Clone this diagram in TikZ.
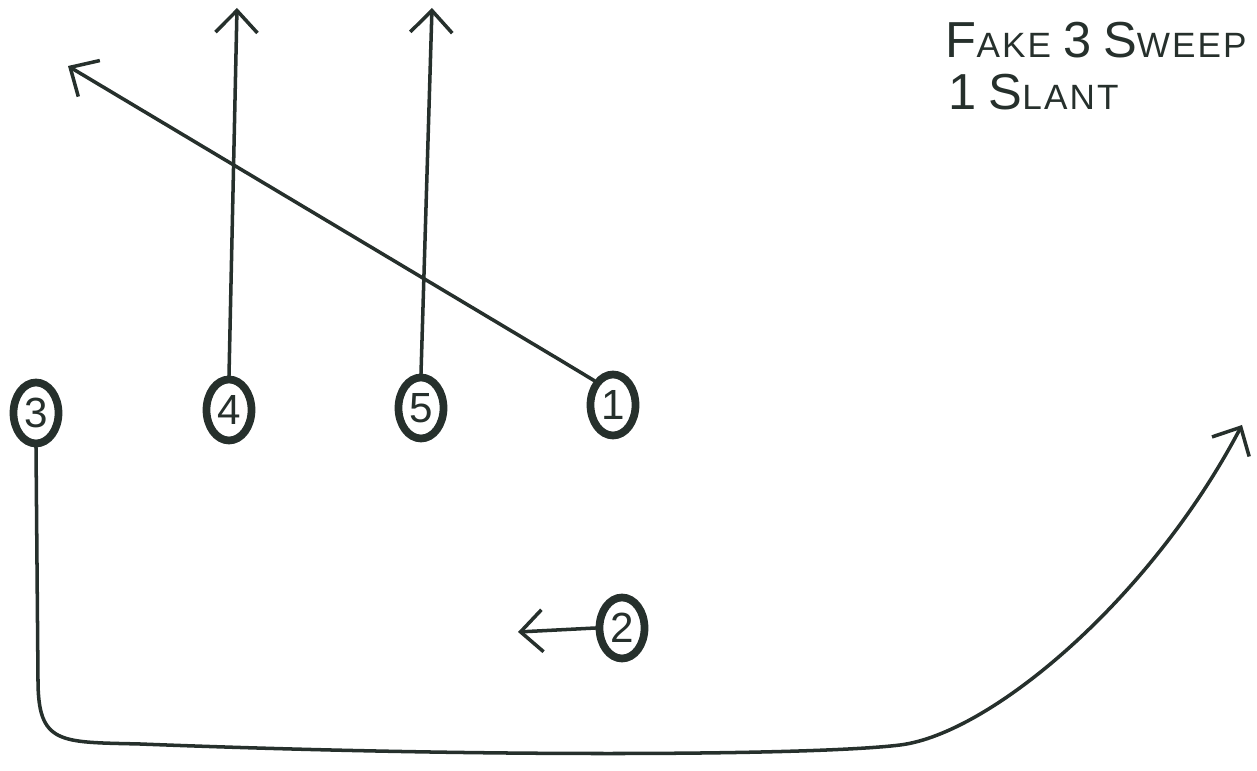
\documentclass[tikz,border=0pt]{standalone}
\usepackage{fontspec}
\setsansfont{Liberation Sans}[LetterSpace=6]
\usetikzlibrary{arrows.meta,shapes.geometric}
\definecolor{pen}{RGB}{38,48,44}

\begin{document}
\begin{tikzpicture}[x=0.1mm,y=-0.1mm,>={Straight Barb[length=2.2mm,width=4.2mm]},font=\sffamily,
  player/.style={draw=pen,ellipse,line width=2.2pt,minimum width=4.5mm,minimum height=6.1mm,inner sep=0pt,text=pen,font=\sffamily\large},
  route/.style={pen,line width=1pt,line cap=round,line join=round},
  title/.style={text=pen,anchor=west,inner sep=0pt}]
\useasboundingbox (0,0) rectangle (1257,771);
% line of scrimmage
\node[player] (p3) at (36,413) {3};
\node[player] (p4) at (229,410) {4};
\node[player] (p5) at (421,408) {5};
\node[player] (p1) at (613,405) {1};
\node[player] (p2) at (622,628) {2};
% routes
\coordinate (e4) at (237,8);
\coordinate (e5) at (432,8);
\coordinate (e1) at (68,66);
\coordinate (k1) at (560,360);
\coordinate (e2) at (518,632);
\coordinate (e3) at (1242,425);
\draw[route,->] (p4.north) -- (e4);
\draw[route,->] (p5.north) -- (e5);
\draw[route,->] (p1.north west) -- (k1) -- (e1);
\draw[route,->] (p2.west) -- (e2);
\draw[route,->] (p3.south) -- (38,680) .. controls (38,745) and (60,742) .. (140,744)
  .. controls (500,758) and (820,755) .. (900,745)
  .. controls (990,734) and (1150,600) .. (e3);
% play name
\node[title] (t1) at (945,40) {{\Large F}AKE {\Large 3} {\Large S}WEEP};
\node[title] (t2) at (948,92) {{\Large 1} {\Large S}LANT};
\end{tikzpicture}
\end{document}
